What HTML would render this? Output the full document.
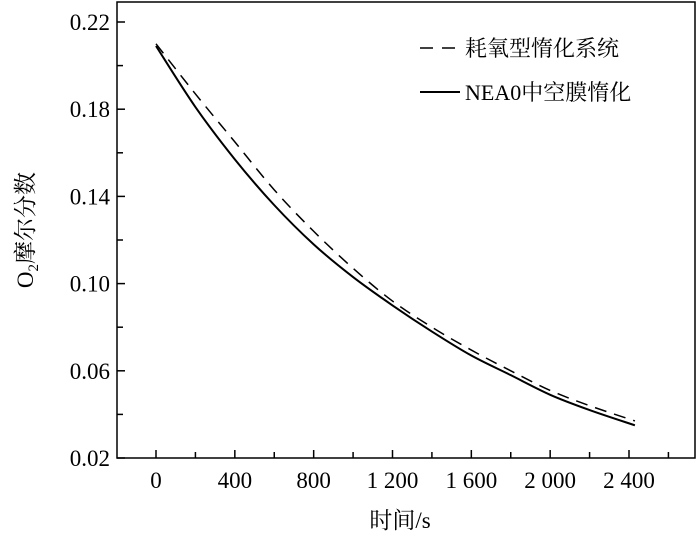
<!DOCTYPE html>
<html><head><meta charset="utf-8"><style>
body{margin:0;background:#fff}
text{font-family:"Liberation Serif","Noto Serif CJK SC",serif;fill:#000}
</style></head><body>
<svg width="700" height="537" viewBox="0 0 700 537">
<rect x="117" y="2" width="578" height="456" fill="none" stroke="#000" stroke-width="1.5"/>
<g id="ax"></g>
<g id="series"></g>
<text x="400" y="528" font-size="23" text-anchor="middle">时间/s</text>
<text transform="translate(33,230) rotate(-90)" font-size="23" text-anchor="middle">O<tspan font-size="15" dy="5">2</tspan><tspan dy="-5">摩尔分数</tspan></text>
<g>
<line x1="420" y1="48" x2="460" y2="48" stroke="#000" stroke-width="1.5" stroke-dasharray="13,9"/>
<text x="465" y="56" font-size="22">耗氧型惰化系统</text>
<line x1="420" y1="92" x2="460" y2="92" stroke="#000" stroke-width="2"/>
<text x="465" y="100" font-size="22">NEA0中空膜惰化</text>
</g>
</svg>
<script>
const xTicks=[0,400,800,1200,1600,2000,2400];
const xTickLabels=["0","400","800","1 200","1 600","2 000","2 400"];
const yTicks=[0.02,0.06,0.10,0.14,0.18,0.22];
const yTickLabels=["0.02","0.06","0.10","0.14","0.18","0.22"];
const times=[0,200,400,600,800,1000,1200,1400,1600,1800,2000,2200,2430];
const dashedVals=[0.210,0.187,0.165,0.143,0.124,0.107,0.092,0.080,0.0695,0.060,0.051,0.044,0.037];
const solidVals=[0.209,0.181,0.157,0.136,0.118,0.103,0.090,0.078,0.067,0.058,0.049,0.042,0.035];
const NS="http://www.w3.org/2000/svg";
const X=v=>156+v*(629-156)/2400;
const Y=v=>458-(v-0.02)*(436/0.2);
const ax=document.getElementById('ax');
function mk(t,a,p){const e=document.createElementNS(NS,t);for(const k in a)e.setAttribute(k,a[k]);p.appendChild(e);return e;}
for(let v=0;v<=2600;v+=200){const t=mk('line',{x1:X(v),x2:X(v),y1:458,y2:v%400===0?450:452,stroke:'#000','stroke-width':1.5},ax);

}
xTicks.forEach((v,i)=>{const t=mk('text',{x:X(v),y:488,'font-size':23,'text-anchor':'middle'},ax);t.textContent=xTickLabels[i];

});
for(let k=0;k<=10;k++){const v=0.02+k*0.02;const t=mk('line',{x1:117,x2:k%2===0?125:123,y1:Y(v),y2:Y(v),stroke:'#000','stroke-width':1.5},ax);

}
yTicks.forEach((v,i)=>{const t=mk('text',{x:110,y:Y(v)+8,'font-size':23,'text-anchor':'end'},ax);t.textContent=yTickLabels[i];

});
function path(vals){let d='';for(let i=0;i<times.length;i++){const x=X(times[i]),y=Y(vals[i]);if(i===0){d+='M'+x+','+y;}else{const x0=X(times[i-1]),y0=Y(vals[i-1]);const xp=i>1?X(times[i-2]):x0,yp=i>1?Y(vals[i-2]):y0;const xn=i<times.length-1?X(times[i+1]):x,yn=i<times.length-1?Y(vals[i+1]):y;
d+=`C${x0+(x-xp)/6},${y0+(y-yp)/6} ${x-(xn-x0)/6},${y-(yn-y0)/6} ${x},${y}`;}}return d;}
const s=document.getElementById('series');
const p1=mk('path',{d:path(dashedVals),fill:'none',stroke:'#000','stroke-width':1.5,'stroke-dasharray':'12,8'},s);


const p2=mk('path',{d:path(solidVals),fill:'none',stroke:'#000','stroke-width':2},s);


</script>
</body></html>
